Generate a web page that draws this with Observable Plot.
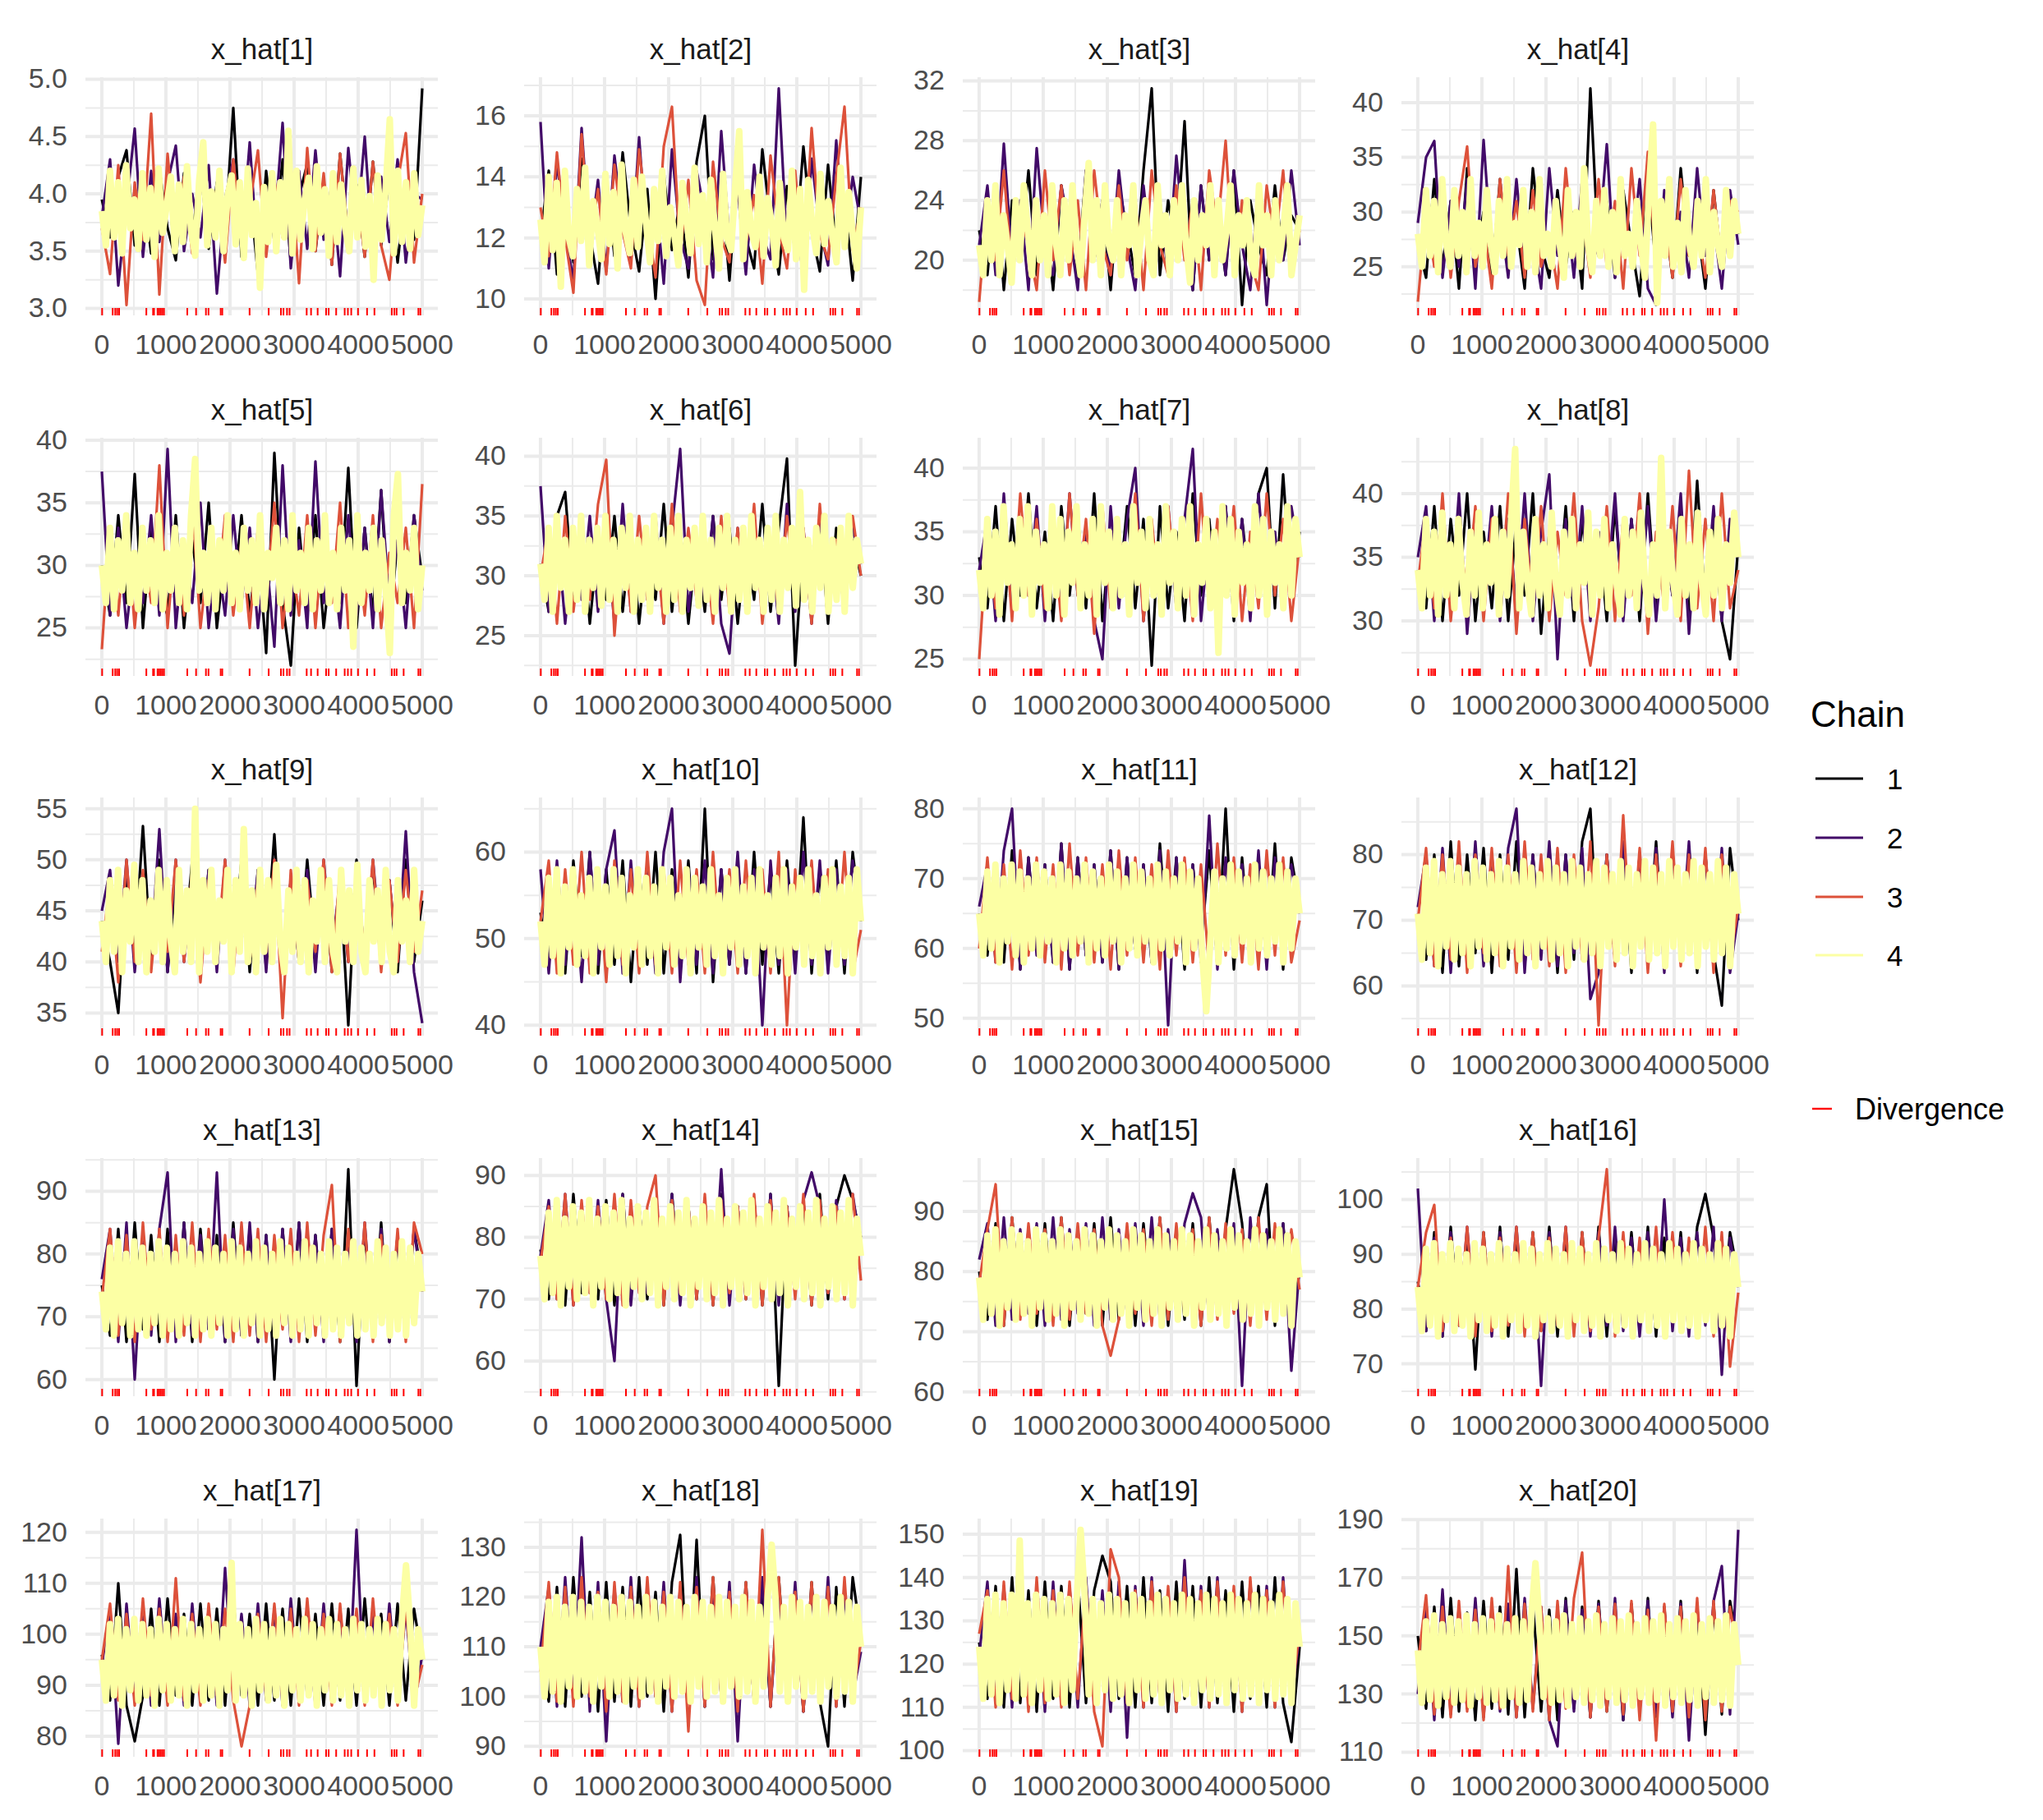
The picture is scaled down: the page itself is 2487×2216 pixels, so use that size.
<!DOCTYPE html>
<html>
<head>
<meta charset="utf-8">
<script src="https://cdn.jsdelivr.net/npm/d3@7"></script>
<script src="https://cdn.jsdelivr.net/npm/@observablehq/plot@0.6"></script>
<style>
  html, body { margin: 0; padding: 0; background: #ffffff; }
  #wrap { position: relative; width: 2487px; height: 2216px; background: #ffffff; font-family: "Liberation Sans", Arial, Helvetica, sans-serif; }
  .panel { position: absolute; }
  .panel svg { overflow: visible; }
</style>
</head>
<body>
<div id="wrap"></div>
<script>
// ---------------- DATA ----------------
const titles = ["x_hat[1]","x_hat[2]","x_hat[3]","x_hat[4]","x_hat[5]","x_hat[6]","x_hat[7]","x_hat[8]","x_hat[9]","x_hat[10]",
  "x_hat[11]","x_hat[12]","x_hat[13]","x_hat[14]","x_hat[15]","x_hat[16]","x_hat[17]","x_hat[18]","x_hat[19]","x_hat[20]"];

const yTicks = [
  [3.0,3.5,4.0,4.5,5.0], [10,12,14,16], [20,24,28,32], [25,30,35,40],
  [25,30,35,40], [25,30,35,40], [25,30,35,40], [30,35,40],
  [35,40,45,50,55], [40,50,60], [50,60,70,80], [60,70,80],
  [60,70,80,90], [60,70,80,90], [60,70,80,90], [70,80,90,100],
  [80,90,100,110,120], [90,100,110,120,130], [100,110,120,130,140,150], [110,130,150,170,190]
];

const xTicks = [0,1000,2000,3000,4000,5000];
const xMinorTicks = [500,1500,2500,3500,4500];

const chainLabels = ["1","2","3","4"];
const chainColors = ["#000004","#420a68","#dd513a","#fcffa4"];

// iterations with a divergent transition
const divergences = [5,170,210,240,270,695,800,815,870,895,920,945,970,1334,1471,1625,1665,1855,1880,2306,2604,
  2795,2835,2890,2930,3197,3265,3368,3500,3540,3657,3790,3840,3892,3998,4139,4254,4525,4565,4600,4710,4940,4970];

// chain 1 (black) — one list per parameter, sampled evenly over iterations 1..5000
const chain1 = [
  [3.95,3.62,4.15,4.38,3.55,4.05,3.48,4.22,3.70,3.42,4.18,3.60,4.25,3.52,4.10,3.66,4.75,3.45,4.02,3.30,4.20,3.58,4.30,3.40,3.98,4.26,3.50,4.12,3.38,4.35,3.62,4.08,3.45,4.28,3.55,4.15,3.40,4.05,3.60,4.92],
  [12.0,14.2,10.8,13.5,11.2,14.6,12.1,10.5,13.9,11.4,14.8,12.3,10.9,13.6,10.0,14.1,11.6,13.2,10.7,14.5,16.0,11.3,13.8,10.6,14.3,12.0,11.0,14.9,12.5,10.8,13.7,11.5,15.0,12.2,10.9,14.4,11.7,13.3,10.6,14.0],
  [22,19,25,18,24,20,26,19,23,18,25,21,19,26,20,24,18,25,22,19,26,31.5,19,24,21,29.3,18,25,20,23,19,26,17,24,21,19,25,20,23,22],
  [27,24,33,25,31,23,34,26,30,24,33,25,29,23,34,27,24,32,25,30,23,41.3,26,31,24,32,27,22.3,33,25,30,24,34,26,29,23,32,25,31,28],
  [30,26,34,27,37.3,25,33,28,26,34,25,32,27,35,25,31,27,34,26,32,23,39,27,22,33,26,34,25,31,27,37.8,25,33,26,36,25,32,27,34,29],
  [31,27,35,37,28,34,26,33,28,35,27,34,26,33,28,36,27,34,26,33,27,35,28,34,26,33,28,36,27,34,39.8,22.5,33,27,35,26,34,28,33,30],
  [33,29,37,28,36,30,38,29,35,28,37,30,36,29,38,28,35,30,37,29,36,24.5,37,29,35,28,38,30,36,29,37,28,36,30,38,40,29,39.5,30,35],
  [34,31,39,30,38,32,40,30,37,31,39,30,38,32,40,29,37,31,39,30,38,32,37,30,39,31,38,30,40,31,37,32,39,30,41,31,38,30,27,36],
  [44,40,35,49,41,53.3,40,50,39,48,41,50,39,49,40,48,41,50,39,49,41,52.5,39,48,40,50,41,49,39,48,33.8,50,40,49,41,48,39,50,40,46],
  [53,47,58,46,59,48,60,46,58,47,59,45,58,47,60,46,58,47,59,46,65,45,58,47,59,46,60,47,58,46,59,48,64,46,58,47,59,46,60,52],
  [65,59,72,58,74,57,73,60,72,58,75,57,73,59,72,58,74,57,73,60,72,58,75,59,73,57,72,60,74,58,80,57,73,59,72,58,75,57,73,66],
  [71,64,80,62,82,63,80,65,81,62,80,64,82,63,80,65,81,62,80,64,82,87,63,80,64,81,62,80,65,82,63,80,64,81,62,80,65,57,81,70],
  [75,67,84,66,85,68,83,66,84,67,85,66,84,68,83,66,85,67,84,66,83,60,84,67,85,66,83,68,84,66,93.5,59,84,67,85,66,83,68,84,76],
  [78,70,86,69,87,71,85,70,86,69,87,71,85,70,86,69,87,71,85,70,86,69,87,71,85,70,86,69,87,56,85,71,86,69,87,70,85,90,86,80],
  [80,72,88,71,89,73,87,71,88,72,89,71,87,73,88,71,89,72,87,71,88,73,89,71,87,72,88,71,89,73,87,97,88,72,89,94.5,71,88,72,80],
  [85,76,94,75,95,77,93,69,94,76,95,75,93,77,94,76,95,75,93,77,94,76,95,75,93,77,94,76,95,75,93,77,94,76,95,101,93,77,94,86],
  [96,87,110,86,79,88,105,86,107,88,104,86,106,87,105,86,107,88,104,86,106,87,105,86,107,88,104,86,106,87,105,86,107,88,104,86,106,87,105,95],
  [108,99,122,98,124,100,121,97,123,99,122,98,124,100,121,97,123,132.5,99,131.5,98,124,100,121,97,123,99,122,98,124,100,121,97,123,99,90,122,98,124,112],
  [125,112,138,110,140,111,137,109,139,112,138,110,140,111,137,145,139,112,138,110,140,111,137,109,139,112,138,110,140,111,137,109,139,112,138,110,140,111,102,124],
  [150,125,160,122,163,124,158,121,162,125,160,123,173,122,161,124,159,121,163,125,160,122,162,124,158,121,161,125,163,122,160,124,162,121,159,116,161,123,162,145]
];

// chain 2 (purple)
const chain2 = [
  [3.80,4.30,3.20,3.90,4.57,3.45,4.20,3.58,4.10,4.42,3.50,4.00,3.62,4.25,3.13,3.95,4.30,3.55,4.45,3.40,4.05,3.70,4.62,3.35,4.20,3.52,4.38,3.60,4.10,3.28,4.40,3.65,4.50,3.45,4.15,3.58,4.30,3.40,4.00,3.95],
  [15.8,11.0,14.5,12.2,10.6,15.6,11.8,13.9,10.9,14.7,12.4,11.2,15.3,11.6,13.5,10.5,14.9,12.0,11.0,14.2,12.8,10.7,15.5,11.9,13.6,10.8,14.4,12.1,11.3,16.9,11.7,13.8,10.4,14.6,12.3,11.1,15.2,11.8,14.0,12.5],
  [21,25,19,27.8,20,24,18,27.5,21,19,25,22,18,26,20,24,19,26,21,18,25,20,24,19,27,21,18,25,20,24,19,26,21,18,25,17,24,20,26,21],
  [29,35,36.5,24,31,25,33,23,36.6,26,30,24,33,25,28,23,34,26,31,24,33,25,27,36.2,24,31,26,33,23,21.5,32,25,30,24,34,26,29,23,32,27],
  [37.5,26,33,25,31,27,34,26,39.3,25,32,27,35,25,31,26,34,27,33,25,31,23.5,38,26,32,25,38.3,27,31,25,34,26,33,25,36,27,32,25,34,28],
  [37.5,27,34,26,33,28,35,27,34,26,36,27,33,28,35,26,34,40.6,27,33,28,35,26,23.5,34,28,35,27,33,26,36,27,34,26,35,28,33,27,34,31],
  [32,36,28,38,29,35,30,37,28,36,29,38,30,35,28,25,37,29,36,40,28,35,30,37,29,36,41.5,28,35,30,37,29,36,28,38,30,35,29,37,33],
  [35,39,30,38,31,40,29,37,32,39,30,38,31,40,30,37,41.5,27,38,31,39,30,37,32,40,30,38,31,39,30,37,32,40,29,38,31,39,30,38,35],
  [45,49,40,50,39,48,41,53,39,50,40,48,41,49,39,50,40,48,41,49,39,50,41,48,40,49,39,50,41,48,40,49,39,50,41,48,40,52.8,39,34],
  [58,46,59,47,58,45,60,47,58,62.5,46,59,47,58,46,60,65,45,58,47,59,46,58,47,60,46,58,40,59,47,58,46,60,47,59,46,58,47,59,53],
  [66,72,58,74,80,57,73,59,72,58,75,57,73,59,72,58,74,57,73,60,72,58,74,49,73,59,72,58,79,57,73,59,72,58,74,57,73,59,72,65],
  [72,80,63,81,62,80,64,82,63,80,64,81,87,62,80,64,82,63,80,65,81,58,62,80,64,82,63,80,64,81,62,80,65,82,63,80,64,81,62,71],
  [76,84,66,85,60,83,67,84,93,66,85,67,83,68,93,66,84,67,85,66,83,68,84,66,85,67,83,66,84,68,83,66,85,67,84,66,83,68,84,74],
  [77,86,70,87,69,85,71,86,70,60,87,69,85,71,86,70,87,69,85,71,86,70,91,69,85,71,86,70,87,69,85,71,86,90.5,85,71,86,70,87,78],
  [82,88,71,89,72,87,73,88,71,89,72,87,73,88,71,89,72,87,73,88,71,89,72,87,73,88,93,89,72,87,73,88,61,89,72,87,73,88,63.5,81],
  [102,76,93,75,94,77,95,76,93,75,94,77,95,76,93,66,94,77,95,76,93,75,94,77,95,76,93,75,94,77,100,76,93,75,94,77,95,68,93,84],
  [94,105,78.5,106,87,105,86,107,88,104,86,106,87,105,86,113,88,104,86,106,87,105,86,107,88,104,86,106,87,105,86,120.5,87,104,86,106,87,105,86,96],
  [110,122,98,124,100,132,97,123,91,122,99,124,98,121,100,123,97,122,99,124,98,121,100,123,91,122,99,124,98,121,100,123,97,122,99,124,98,121,100,109],
  [122,139,111,138,110,140,112,137,109,139,111,138,110,140,112,137,109,139,103,138,110,140,112,137,109,144,111,138,110,140,112,137,109,139,111,138,110,140,112,126],
  [130,162,121,166,123,160,125,163,122,159,124,161,122,163,125,160,121,112,162,124,159,122,161,125,163,121,160,124,162,123,159,122,161,114,160,124,162,174,123,186.5]
];

// chain 3 (orange)
const chain3 = [
  [3.70,3.30,4.25,3.03,4.10,3.60,4.70,3.12,4.35,3.55,4.15,3.48,4.20,3.65,4.05,3.40,4.30,3.58,3.90,4.38,3.45,4.12,3.62,4.25,3.22,4.40,3.50,4.18,3.38,4.35,3.60,4.05,3.45,4.28,3.55,3.25,4.10,4.53,3.40,4.00],
  [13.0,11.4,14.8,12.0,10.2,15.4,11.7,13.6,10.8,14.4,12.2,11.0,14.9,12.6,10.7,15.0,16.3,11.5,13.9,10.6,9.8,14.5,12.0,11.2,15.1,11.8,13.4,10.5,14.7,12.3,11.0,14.2,10.9,15.6,12.1,11.3,14.0,16.3,11.6,13.0],
  [17.2,24,20,26,19,23,21,18,26,20,25,19,24,18,26,21,19,25,20,24,18,26,21,19,25,20,24,18,26,22,28,19,24,20,18,25,21,26,19,22],
  [21.8,30,25,33,24,31,36,25,29,23,33,26,31,24,32,25,28,23,34,26,30,24,33,25,31,23,34,26,35.5,25,30,24,33,26,29,24,32,25,31,30],
  [23.3,33,26,34,25,32,27,38,25,33,26,35,25,31,27,34,26,32,25,33,27,35,25,31,26,34,25,33,27,35,25,32,26,34,25,31,27,33,25,36.5],
  [30,34,26,35,27,33,28,36,39.7,25,34,27,35,28,33,26,36,27,34,28,33,26,35,27,34,28,36,26,33,27,35,28,34,26,36,27,33,28,35,30],
  [25,35,29,37,28,38,30,36,29,35,28,38,30,36,27,37,29,35,30,38,28,36,29,37,30,35,28,38,29,36,30,37,28,35,29,38,30,36,28,34],
  [33,38,31,40,30,37,32,39,30,38,31,40,29,38,31,39,30,37,32,40,30,26.5,31,39,30,38,32,40,29,37,31,39,30,41.8,31,38,30,40,31,34],
  [41,48,38,50,40,49,39,48,41,50,40,49,38,48,41,50,39,49,40,48,41,50,34.5,49,40,48,41,50,39,49,40,48,41,50,39,48,40,49,41,47],
  [52,59,46,58,47,60,46,58,45,59,47,58,46,60,47,58,46,59,47,58,46,60,47,58,46,59,47,58,46,60,40,58,47,59,46,58,47,60,46,51],
  [60,73,58,72,57,74,59,73,58,72,57,75,59,73,58,72,57,74,59,73,58,72,57,74,59,73,58,72,57,75,59,73,58,72,57,74,59,73,58,64],
  [70,81,63,80,64,82,62,80,65,81,63,80,62,82,64,80,63,81,62,80,64,82,54,80,63,86,64,81,62,80,65,82,63,80,64,81,62,80,64,72],
  [73,84,67,83,66,85,68,84,66,83,67,85,66,84,68,83,66,85,67,84,66,83,68,84,66,85,67,83,91,66,84,68,85,66,83,67,84,66,85,80],
  [76,85,70,87,69,86,71,85,70,87,69,86,71,85,90,69,86,71,85,70,87,69,86,71,85,70,87,69,86,71,85,70,87,69,86,71,85,70,87,73],
  [78,87,94.5,71,89,72,88,73,87,71,89,72,88,73,87,71,66,72,88,73,87,71,89,72,88,73,87,71,89,72,88,73,87,71,89,72,88,73,87,77],
  [84,94,99,76,93,77,95,75,94,76,93,77,95,75,94,76,93,77,95,75,94,76,93,105.5,75,94,76,93,77,95,75,94,76,93,77,95,75,94,69.5,83],
  [95,106,87,104,86,107,88,105,86,111,87,104,86,106,88,105,87,78,86,104,88,106,87,105,86,107,88,104,86,106,87,105,86,107,88,104,86,106,87,94],
  [105,123,99,122,98,124,100,121,97,123,99,122,98,124,100,121,97,123,93,122,98,124,100,121,97,123,99,133.5,98,124,100,121,97,123,99,122,98,124,100,111],
  [127,137,110,139,112,138,109,140,111,137,110,139,112,138,109,101,146.5,140,111,137,110,139,112,138,109,140,111,137,110,139,112,138,109,140,111,137,110,139,112,128],
  [140,164,123,160,122,162,124,159,121,163,125,174,122,161,124,160,121,162,125,163,178.7,122,160,124,161,123,162,121,159,114,161,124,160,122,163,121,162,124,160,142]
];

// chain 4 (pale yellow)
const chain4 = [
  [3.85,3.55,4.20,3.62,4.10,3.48,4.25,3.70,3.95,3.52,4.18,3.60,4.05,3.45,4.22,3.66,3.90,4.15,3.50,4.08,3.58,4.24,3.68,3.46,4.12,4.45,3.55,4.02,3.62,4.20,3.50,3.98,4.16,3.56,4.10,3.44,4.22,3.64,3.92,3.18,4.06,3.58,4.18,3.50,4.10,3.62,4.55,3.48,4.20,3.60,3.95,4.14,3.52,4.24,3.66,4.04,3.46,4.18,3.58,4.08,3.70,3.50,4.22,3.62,4.12,3.54,3.98,3.25,4.16,3.60,4.05,4.65,3.48,4.20,3.58,4.10,3.52,4.18,3.64,3.90],
  [12.6,11.2,14.0,11.6,13.8,10.4,14.2,12.0,11.4,13.6,11.9,14.3,11.1,13.2,12.4,11.3,14.1,11.8,13.5,11.0,14.4,12.2,11.5,13.9,11.7,14.0,12.5,11.2,13.6,11.9,14.2,11.4,13.0,12.1,11.1,13.8,12.6,11.5,14.3,11.8,13.4,11.2,13.9,12.3,11.0,14.1,12.0,11.6,13.7,15.5,11.3,13.5,12.2,11.7,14.0,11.4,13.3,12.5,11.1,13.8,12.0,11.6,14.2,11.3,13.6,10.3,13.9,12.4,11.5,14.1,11.8,13.2,12.0,11.2,14.3,11.7,13.5,12.1,11.0,13.0],
  [21,19,24,20,25,19,23,21,18.5,24,20,25,22,19,24,20,23,19,25,21,19,24,20,25,21,19,23,26.5,20,24,19,25,21,20,24,19,23,21,25,19,22,24,20,19,25,21,23,19,24,20,25,21,18.5,24,20,23,21,25,19,24,20,22,25,19,23,21,24,20,19,25,21,23,19,24,20,22,25,19,21,23],
  [28,25,32,26,31,24.5,33,27,25,32,26,30,24.5,33,26,29,25,32,27,24.5,31,26,33,25,29,27,32,25,30,24.5,33,26,28,25,31,27,24,32,26,30,25,34,27,24.5,31,26,32,25,30,24.5,33,26,28,25,31,27,24,32,38,21.7,31,26,33,25,29,24.5,32,27,25,31,26,33,24.5,30,27,25,32,26,31,28],
  [30,27,33,26.5,32,28,34,27,31,26.5,33,28,32,27,34,26.5,31,28,33,27,32,26.5,34,38.5,28,31,27,33,26.5,32,28,34,27,31,26.5,33,28,32,27,34,26.5,31,29,33,27,32,26.5,34,28,31,27,33,26.5,32,28,34,27,31,26.5,33,28,32,23.5,34,27,31,28,33,26.5,32,28,23,34,37.3,27,31,28,33,26.5,30],
  [31,28,34,27,35,29,33,27,34,28,35,27,33,29,34,27.5,35,28,33,27,34,29,35,27,33,28,34,27,35,29,33,27,34,28,35,27,33,29,34,27.5,35,28,33,27,34,29,35,27,33,28,34,27,35,29,33,27,34,28,35,27,33,29,34,27.5,37,28,33,27,34,29,35,27,33,28,34,27,35,29,33,31],
  [32,29,36,30,35,28.5,37,31,34,29,36,30,37,28.5,35,31,34,29,37,30,36,28.5,35,31,37,29,34,30,36,28.5,37,31,35,29,36,30,34,28.5,37,31,35,29,36,30,34,28.5,37,31,35,29,36,30,37,28.5,34,31,36,29,35,25.5,37,30,36,28.5,35,31,34,29,37,30,36,28.5,35,31,34,29,37,30,36,33],
  [34,31,38,32,37,30.5,38.5,32,36,31,38,33,30.5,37,32,38.5,31,36,33,38,30.5,37,32,38,43.5,31,37,33,30.5,38,32,36,31,38.5,33,30.5,37,32,38,31,36,33,38.5,30.5,37,32,38,31,36,33,30.5,38,32,37,31,38.5,33,30.5,36,32,42.8,31,37,33,30.5,38,32,36,31,38.5,33,30.5,37,32,38,31,36,33,38.5,35],
  [44,40,48,41,49,39,47,42,49.5,40,48,39,46,41,49,40,48,42,39,49,41,47,40,55,39,48,41,49,40,46,42,49,39,48,41,53,40,47,39,49,41,48,40,49.5,42,39,47,41,49,40,48,39,46,42,49,40,48,41,39,49,42,47,40,49.5,41,39,48,42,47,40,49,41,39,48,42,46,40,49,41,44],
  [52,47,57,48,58,46,56,49,58,47,55,48,57,46,58,49,56,47,58,48,57,46,55,49,58,47,57,48,56,46,58,49,57,47,55,48,58,46,57,49,56,47,58,48,55,46,57,49,58,47,56,48,57,46,58,49,55,47,57,48,58,46,56,49,57,47,58,48,55,46,57,49,58,47,56,48,57,46,58,52],
  [65,59,71,60,72,58,70,61,72,59,71,58,70,60,72,59,71,61,70,58,72,60,71,59,70,61,72,58,71,60,70,59,72,61,71,58,70,60,72,59,71,61,70,58,72,60,71,59,70,61,72,58,71,60,70,59,51,61,71,58,70,60,72,59,71,61,70,58,72,60,71,59,70,61,72,58,71,60,70,65],
  [71,64,78,65,79,63,77,66,79,64,78,65,77,63,79,66,78,64,77,65,79,63,78,66,77,64,79,65,78,63,77,66,79,64,78,65,77,63,79,66,78,64,77,65,79,63,78,66,77,64,79,65,78,63,77,66,79,64,78,65,77,63,79,66,78,64,77,65,79,63,78,66,77,64,79,65,78,63,77,71],
  [74,68,81,67,82,69,80,67,82,68,81,67,80,69,82,67,81,68,80,67,82,69,81,67,80,68,82,67,81,69,80,67,82,68,81,67,80,69,82,67,81,68,80,67,82,69,81,67,80,68,82,67,81,69,80,67,82,68,81,67,80,69,82,67,81,68,80,67,82,69,81,67,80,68,82,67,81,69,80,74],
  [77,70,84,71,86,69,83,72,85,70,84,71,86,69,83,72,85,70,84,71,86,69,83,72,85,70,84,71,86,69,83,72,85,70,84,71,86,69,83,72,85,70,84,71,86,69,83,72,85,70,84,71,86,69,83,72,85,70,84,71,86,69,83,72,85,70,84,71,86,69,83,72,85,70,84,71,86,69,83,77],
  [79,72,86,73,87,71,85,74,87,72,86,73,85,71,87,74,86,72,85,73,87,71,86,74,85,72,87,73,86,71,85,74,87,72,86,73,85,71,87,74,86,72,85,73,87,71,86,74,85,72,87,73,86,71,85,74,87,72,86,73,85,71,87,74,86,72,85,73,87,71,86,74,85,72,87,73,86,71,85,79],
  [84,76,91,77,92,75,90,78,92,76,91,77,90,75,92,78,91,76,90,77,92,75,91,78,90,76,92,77,91,75,90,78,92,76,91,77,90,75,92,78,91,76,90,77,92,75,91,78,90,76,92,77,91,75,90,78,92,76,91,77,90,75,92,78,91,76,90,77,92,75,91,78,90,76,92,77,91,75,90,84],
  [95,87,102,88,103,86,101,89,103,87,102,88,101,86,103,89,102,87,101,88,103,86,102,89,101,87,103,88,102,86,101,89,114,87,102,88,101,86,103,89,102,87,101,88,103,86,102,89,101,87,103,88,102,86,101,89,103,87,102,88,101,86,103,89,102,87,101,88,103,86,102,89,101,87,103,113.5,102,86,101,95],
  [110,100,119,101,120,99,118,102,120,100,119,101,118,99,120,102,119,100,118,101,120,99,119,102,118,100,120,101,119,99,118,102,120,100,119,101,118,99,120,102,119,100,118,101,120,99,119,102,118,100,120,101,119,99,118,102,120,130.5,119,101,118,99,120,102,119,100,118,101,120,99,119,102,118,100,120,101,119,99,118,110],
  [124,112,135,113,136,111,134,114,136,112,148.5,113,134,111,136,114,135,112,134,113,136,111,135,114,134,151,136,113,135,111,134,114,136,112,135,113,134,111,136,114,135,112,134,113,136,111,135,114,134,112,136,113,135,111,134,114,136,112,135,113,134,111,136,114,135,112,134,113,136,111,135,114,134,112,136,113,135,111,134,124],
  [145,127,155,128,157,126,154,129,156,127,155,128,157,126,154,129,156,127,155,128,157,126,154,129,156,127,155,128,157,175,154,129,156,127,155,128,157,126,154,129,156,127,155,128,157,126,154,129,156,127,155,128,157,126,154,129,156,127,155,128,157,126,154,129,156,127,155,128,157,126,154,129,156,127,155,128,157,126,154,140]
];

// ---------------- LAYOUT ----------------
const FONT = '"Liberation Sans", Arial, Helvetica, sans-serif';
const PW = 534, PH = 438;                 // svg size of one facet
const ML = 104, MR = 1, MT = 94, MB = 54; // frame 429 x 290
const COL_X = [0, 534, 1068, 1602];
const ROW_Y = [0, 438.7, 877.4, 1316.1, 1754.8];
const GRID = "#ebebeb";
const STROKE_W = [3.2, 3.2, 3.2, 8];     // the yellow chain is drawn last and thicker to read as the dense band

const wrap = document.getElementById("wrap");
const chains = [chain1, chain2, chain3, chain4];
const iterMin = 1, iterMax = 5000;
const xPad = (iterMax - iterMin) * 0.05;
const xDomain = [iterMin - xPad, iterMax + xPad];

titles.forEach((title, i) => {
  const rows = [];
  chains.forEach((ch, c) => {
    const v = ch[i];
    const n = v.length;
    v.forEach((y, k) => rows.push({chain: chainLabels[c], iteration: iterMin + k * (iterMax - iterMin) / (n - 1), value: y}));
  });
  const ext = d3.extent(rows, d => d.value);
  const pad = (ext[1] - ext[0]) * 0.05;
  const yDomain = [ext[0] - pad, ext[1] + pad];
  const inY = t => t >= yDomain[0] && t <= yDomain[1];
  const ticks = yTicks[i];
  const step = ticks[1] - ticks[0];
  const major = ticks.filter(inY);
  const minor = [ticks[0] - step / 2, ...ticks.map(t => t + step / 2)].filter(inY);
  const decimals = ticks.some(t => !Number.isInteger(t));
  const fmt = decimals ? d3.format(".1f") : d3.format("d");

  const chainMarks = chainLabels.map((lab, c) =>
    Plot.line(rows.filter(r => r.chain === lab), {
      x: "iteration", y: "value", stroke: chainColors[c], strokeWidth: STROKE_W[c],
      strokeLinejoin: "round", strokeLinecap: "butt"
    })
  );

  const svg = Plot.plot({
    width: PW, height: PH,
    marginLeft: ML, marginRight: MR, marginTop: MT, marginBottom: MB,
    x: {domain: xDomain, label: null},
    y: {domain: yDomain, label: null},
    style: {fontFamily: FONT, fontSize: "34px", color: "#4d4d4d", background: "transparent", overflow: "visible"},
    marks: [
      Plot.gridY(minor, {stroke: GRID, strokeOpacity: 1, strokeWidth: 2}),
      Plot.gridX(xMinorTicks, {stroke: GRID, strokeOpacity: 1, strokeWidth: 2}),
      Plot.gridY(major, {stroke: GRID, strokeOpacity: 1, strokeWidth: 4}),
      Plot.gridX(xTicks, {stroke: GRID, strokeOpacity: 1, strokeWidth: 4}),
      Plot.axisY(major, {tickSize: 0, tickPadding: 22.6, tickFormat: fmt, label: null, fill: "#4d4d4d", fontSize: 34}),
      Plot.axisX(xTicks, {tickSize: 0, tickPadding: 22.7, tickFormat: d => String(d), label: null, fill: "#4d4d4d", fontSize: 34}),
      ...chainMarks,
      Plot.ruleX(divergences, {x: d => d, stroke: "#ff0000", strokeWidth: 2, insetTop: 281}),
      Plot.text([title], {text: d => d, frameAnchor: "top", lineAnchor: "bottom", dy: -22.3, fontSize: 35, fill: "#1a1a1a"})
    ]
  });
  const div = document.createElement("div");
  div.className = "panel";
  div.style.left = COL_X[i % 4] + "px";
  div.style.top = ROW_Y[Math.floor(i / 4)] + "px";
  div.appendChild(svg);
  wrap.appendChild(div);
});

// ---------------- LEGEND ----------------
const leg = d3.create("svg")
  .attr("width", 297).attr("height", 560)
  .style("position", "absolute").style("left", "2190px").style("top", "820px")
  .style("overflow", "visible")
  .attr("font-family", FONT);
leg.append("text").attr("x", 14).attr("y", 65).attr("font-size", 44).attr("fill", "#000000").text("Chain");
const keyY = [128, 200, 272, 343];
chainLabels.forEach((lab, c) => {
  leg.append("line").attr("x1", 20).attr("x2", 78).attr("y1", keyY[c]).attr("y2", keyY[c])
    .attr("stroke", chainColors[c]).attr("stroke-width", 2.8);
  leg.append("text").attr("x", 107).attr("y", keyY[c]).attr("dy", "0.36em").attr("font-size", 35)
    .attr("fill", "#000000").text(lab);
});
leg.append("line").attr("x1", 16).attr("x2", 40).attr("y1", 530).attr("y2", 530)
  .attr("stroke", "#ff0000").attr("stroke-width", 2.4);
leg.append("text").attr("x", 68).attr("y", 530).attr("dy", "0.36em").attr("font-size", 36)
  .attr("fill", "#000000").text("Divergence");
wrap.appendChild(leg.node());
</script>
</body>
</html>
